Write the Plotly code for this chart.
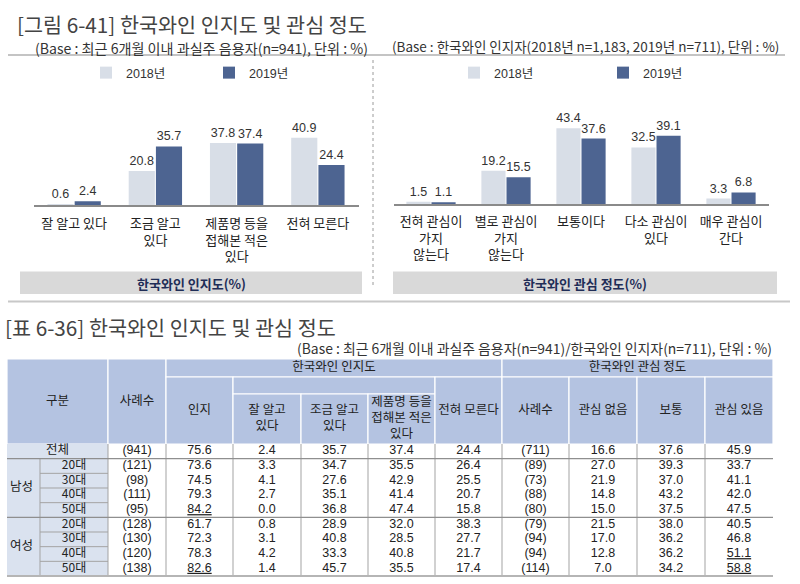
import plotly.graph_objects as go

W, H = 800, 584

# ---------------- chart data ----------------
years = ["2018년", "2019년"]

aware_cats = ["잘 알고 있다", "조금 알고<br>있다", "제품명 등을<br>접해본 적은<br>있다", "전혀 모른다"]
aware_2018 = [0.6, 20.8, 37.8, 40.9]
aware_2019 = [2.4, 35.7, 37.4, 24.4]

interest_cats = ["전혀 관심이<br>가지<br>않는다", "별로 관심이<br>가지<br>않는다", "보통이다",
                 "다소 관심이<br>있다", "매우 관심이<br>간다"]
interest_2018 = [1.5, 19.2, 43.4, 32.5, 3.3]
interest_2019 = [1.1, 15.5, 37.6, 39.1, 6.8]

# ---------------- table data ----------------
row_gender = ["전체", "남성", "남성", "남성", "남성", "여성", "여성", "여성", "여성"]
row_age = ["", "20대", "30대", "40대", "50대", "20대", "30대", "40대", "50대"]

t_n1 = ["(941)", "(121)", "(98)", "(111)", "(95)", "(128)", "(130)", "(120)", "(138)"]
t_aware = [75.6, 73.6, 74.5, 79.3, 84.2, 61.7, 72.3, 78.3, 82.6]
t_know_well = [2.4, 3.3, 4.1, 2.7, 0.0, 0.8, 3.1, 4.2, 1.4]
t_know_some = [35.7, 34.7, 27.6, 35.1, 36.8, 28.9, 40.8, 33.3, 45.7]
t_seen = [37.4, 35.5, 42.9, 41.4, 47.4, 32.0, 28.5, 40.8, 35.5]
t_unaware = [24.4, 26.4, 25.5, 20.7, 15.8, 38.3, 27.7, 21.7, 17.4]
t_n2 = ["(711)", "(89)", "(73)", "(88)", "(80)", "(79)", "(94)", "(94)", "(114)"]
t_no_interest = [16.6, 27.0, 21.9, 14.8, 15.0, 21.5, 17.0, 12.8, 7.0]
t_neutral = [37.6, 39.3, 37.0, 43.2, 37.5, 38.0, 36.2, 36.2, 34.2]
t_interest = [45.9, 33.7, 41.1, 42.0, 47.5, 40.5, 46.8, 51.1, 58.8]

hdr_top_aware = "한국와인 인지도"
hdr_top_interest = "한국와인 관심 정도"
hdr_cols = ["구분", "사례수", "인지", "잘 알고<br>있다", "조금 알고<br>있다", "제품명 등을<br>접해본 적은<br>있다",
            "전혀 모른다", "사례수", "관심 없음", "보통", "관심 있음"]

table_cols = [t_n1, t_aware, t_know_well, t_know_some, t_seen, t_unaware,
              t_n2, t_no_interest, t_neutral, t_interest]
underlined = {(1, 4), (1, 8), (9, 7), (9, 8)}  # (column index, row index)

# ---------------- style ----------------
C18 = "#d8dee7"
C19 = "#4d6491"
HDR = "#b4c3e1"
LBL = "#dae2ef"
GRID = "#a3a3a3"
FONT = "Liberation Sans, Noto Sans CJK KR, sans-serif"
KFONT = "Noto Sans CJK KR, sans-serif"
NFONT = "Liberation Sans Narrow, Liberation Sans, Noto Sans CJK KR, sans-serif"


def px(x):
    return x / W


def py(y):
    return 1 - y / H


fig = go.Figure()

for name, vals, col in [(years[0], aware_2018, C18), (years[1], aware_2019, C19)]:
    fig.add_trace(go.Bar(
        x=aware_cats, y=vals, name=name, marker=dict(color=col, line=dict(width=0)),
        text=[f"{v:.1f}" for v in vals], textposition="outside", constraintext="none",
        textfont=dict(size=12.5, color="#333"), cliponaxis=False,
        xaxis="x", yaxis="y", legend="legend", hoverinfo="skip"))

for name, vals, col in [(years[0], interest_2018, C18), (years[1], interest_2019, C19)]:
    fig.add_trace(go.Bar(
        x=interest_cats, y=vals, name=name, marker=dict(color=col, line=dict(width=0)),
        text=[f"{v:.1f}" for v in vals], textposition="outside", constraintext="none",
        textfont=dict(size=12.5, color="#333"), cliponaxis=False,
        xaxis="x2", yaxis="y2", legend="legend2", hoverinfo="skip"))

# ---------------- table geometry (layout constants) ----------------
E = [7, 108, 166, 233, 301, 368, 435, 502, 569, 637, 705, 773]
SPLIT = 40
HT, H1, H2, HB = 359, 377, 394, 444
BOTTOM = 576
NR = len(row_age)
R = [HB + i * (BOTTOM - HB) / NR for i in range(NR + 1)]

shapes = []


def rect(x0, x1, y0, y1, fill, lc="white", lw=1, ref=("x3", "y3"), layer="below"):
    shapes.append(dict(type="rect", xref=ref[0], yref=ref[1], x0=x0, x1=x1, y0=y0, y1=y1,
                       fillcolor=fill, line=dict(color=lc, width=lw), layer=layer))


def line(x0, x1, y0, y1, color, lw=1, dash="solid", ref=("x3", "y3"), layer="below"):
    shapes.append(dict(type="line", xref=ref[0], yref=ref[1], x0=x0, x1=x1, y0=y0, y1=y1,
                       line=dict(color=color, width=lw, dash=dash), layer=layer))


# header cells
hdr_cells = [
    (E[0], E[1], HT, HB, hdr_cols[0]),
    (E[1], E[2], HT, HB, hdr_cols[1]),
    (E[2], E[7], HT, H1, hdr_top_aware),
    (E[2], E[3], H1, HB, hdr_cols[2]),
    (E[3], E[6], H1, H2, ""),
    (E[3], E[4], H2, HB, hdr_cols[3]),
    (E[4], E[5], H2, HB, hdr_cols[4]),
    (E[5], E[6], H2, HB, hdr_cols[5]),
    (E[6], E[7], H1, HB, hdr_cols[6]),
    (E[7], E[11], HT, H1, hdr_top_interest),
    (E[7], E[8], H1, HB, hdr_cols[7]),
    (E[8], E[9], H1, HB, hdr_cols[8]),
    (E[9], E[10], H1, HB, hdr_cols[9]),
    (E[10], E[11], H1, HB, hdr_cols[10]),
]
hx, hy, ht = [], [], []
for x0, x1, y0, y1, t in hdr_cells:
    rect(x0, x1, y0, y1, HDR, "white", 1.2)
    if t:
        hx.append((x0 + x1) / 2)
        hy.append((y0 + y1) / 2)
        ht.append(t)

# row label cells
rect(E[0], E[1], R[0], R[1], LBL, LBL, 0)
rect(E[0], SPLIT, R[1], R[5], LBL, LBL, 0)
rect(E[0], SPLIT, R[5], R[9], LBL, LBL, 0)
for i in range(1, NR):
    rect(SPLIT, E[1], R[i], R[i + 1], LBL, LBL, 0)

# body lines
for i in range(2, NR):
    if i != 5:
        line(SPLIT, E[1], R[i], R[i], GRID, 1)
line(SPLIT, SPLIT, R[1], R[9], GRID, 1)
for k in range(1, 11):
    line(E[k], E[k], R[0], R[9], GRID, 1)
for i in (1, 5):
    line(E[0], E[11], R[i], R[i], "#8f8f8f", 1.3)
line(E[0], E[11], R[9], R[9], "#b5b5b5", 2)

# label texts
lx, ly, lt = [], [], []
lx.append((E[0] + E[1]) / 2); ly.append((R[0] + R[1]) / 2); lt.append(row_gender[0])
lx.append((E[0] + SPLIT) / 2 - 2); ly.append((R[1] + R[5]) / 2); lt.append(row_gender[1])
lx.append((E[0] + SPLIT) / 2 - 2); ly.append((R[5] + R[9]) / 2); lt.append(row_gender[5])
ax_, ay_, at_ = [], [], []
for i in range(1, NR):
    ax_.append((SPLIT + E[1]) / 2); ay_.append((R[i] + R[i + 1]) / 2); at_.append(row_age[i])

# data texts
dx, dy, dt = [], [], []
for j, col in enumerate(table_cols):
    for i, v in enumerate(col):
        s = v if isinstance(v, str) else f"{v:.1f}"
        if (j, i) in underlined:
            s = f"<u>{s}</u>"
        dx.append((E[j + 1] + E[j + 2]) / 2)
        dy.append((R[i] + R[i + 1]) / 2)
        dt.append(s)

fig.add_trace(go.Scatter(x=hx, y=hy, text=ht, mode="text", xaxis="x3", yaxis="y3",
                         textfont=dict(size=12.5, color="#222", family=KFONT),
                         showlegend=False, hoverinfo="skip", cliponaxis=False))
fig.add_trace(go.Scatter(x=lx, y=ly, text=lt, mode="text", xaxis="x3", yaxis="y3",
                         textfont=dict(size=12.5, color="#222", family=KFONT),
                         showlegend=False, hoverinfo="skip", cliponaxis=False))
fig.add_trace(go.Scatter(x=ax_, y=ay_, text=at_, mode="text", xaxis="x3", yaxis="y3",
                         textfont=dict(size=12, color="#222", family=KFONT),
                         showlegend=False, hoverinfo="skip", cliponaxis=False))
fig.add_trace(go.Scatter(x=dx, y=dy, text=dt, mode="text", xaxis="x3", yaxis="y3",
                         textfont=dict(size=12.5, color="#222", family=NFONT),
                         showlegend=False, hoverinfo="skip", cliponaxis=False))

# ---------------- decorations (paper) ----------------
P = ("paper", "paper")
line(px(8), px(785), py(55), py(55), "#b0b0b0", 1.5, ref=P)
line(px(373), px(373), py(60), py(287), "#9a9a9a", 1, dash="dot", ref=P)
rect(px(20), px(362), py(294), py(271.5), "#d9d9d9", "#d9d9d9", 0, ref=P)
rect(px(393), px(777), py(294), py(271.5), "#d9d9d9", "#d9d9d9", 0, ref=P)
line(px(8), px(790), py(301.5), py(301.5), "#c8c8c8", 2, ref=P)

ann = []


def text(x, y, t, size, color="#333", xanchor="left", family=KFONT):
    ann.append(dict(x=x, y=y, xref="paper", yref="paper", text=t, showarrow=False,
                    xanchor=xanchor, yanchor="middle", font=dict(size=size, color=color, family=family)))


text(px(15), py(24), "[그림 6-41] 한국와인 인지도 및 관심 정도", 20.7, "#444")
text(px(33), py(48), "(Base : 최근 6개월 이내 과실주 음용자(n=941), 단위 : %)", 14.1, "#333")
text(px(390), py(46), "(Base : 한국와인 인지자(2018년 n=1,183, 2019년 n=711), 단위 : %)", 13.5, "#333")
text(px(191), py(283), "<b>한국와인 인지도(%)</b>", 13, "#1f2d57", "center")
text(px(585), py(283), "<b>한국와인 관심 정도(%)</b>", 13, "#1f2d57", "center")
text(px(3), py(327), "[표 6-36] 한국와인 인지도 및 관심 정도", 20.7, "#444")
text(px(774), py(348), "(Base : 최근 6개월 이내 과실주 음용자(n=941)/한국와인 인지자(n=711), 단위 : %)",
     13.9, "#333", "right")

legend_common = dict(orientation="h", xanchor="left", yanchor="middle", y=py(73),
                     font=dict(size=12.5, color="#333", family=FONT),
                     bgcolor="rgba(0,0,0,0)", entrywidthmode="pixels", itemwidth=30,
                     itemclick=False, itemdoubleclick=False)

fig.update_layout(
    width=W, height=H, margin=dict(l=0, r=0, t=0, b=0),
    paper_bgcolor="white", plot_bgcolor="rgba(0,0,0,0)",
    font=dict(family=FONT, color="#222"),
    barmode="group", bargap=0.33, bargroupgap=0.04,
    shapes=shapes, annotations=ann,
    legend=dict(legend_common, x=px(86), entrywidth=78),
    legend2=dict(legend_common, x=px(454), entrywidth=104),
    xaxis=dict(domain=[px(33.5), px(358.5)], anchor="y", type="category",
               showline=True, linecolor="#8a8a8a", linewidth=1.5, ticks="",
               tickfont=dict(size=13, color="#222", family=KFONT), ticklabelstandoff=5,
               showgrid=False, zeroline=False, fixedrange=True),
    yaxis=dict(domain=[py(205.3), py(90)], anchor="x", range=[0, (205.3 - 90) / 1.65],
               visible=False, showgrid=False, fixedrange=True),
    xaxis2=dict(domain=[px(393.5), px(768.5)], anchor="y2", type="category",
                showline=True, linecolor="#8a8a8a", linewidth=1.5, ticks="",
                tickfont=dict(size=13, color="#222", family=KFONT), ticklabelstandoff=4,
                showgrid=False, zeroline=False, fixedrange=True),
    yaxis2=dict(domain=[py(204.3), py(90)], anchor="x2", range=[0, (204.3 - 90) / 1.75],
                visible=False, showgrid=False, fixedrange=True),
    xaxis3=dict(domain=[0, 1], anchor="y3", range=[0, W], visible=False, fixedrange=True),
    yaxis3=dict(domain=[0, 1], anchor="x3", range=[H, 0], visible=False, fixedrange=True),
)

fig.write_html("out.html", config={"displayModeBar": False},
               post_script="document.body.style.margin='0';document.body.style.overflow='hidden';")
